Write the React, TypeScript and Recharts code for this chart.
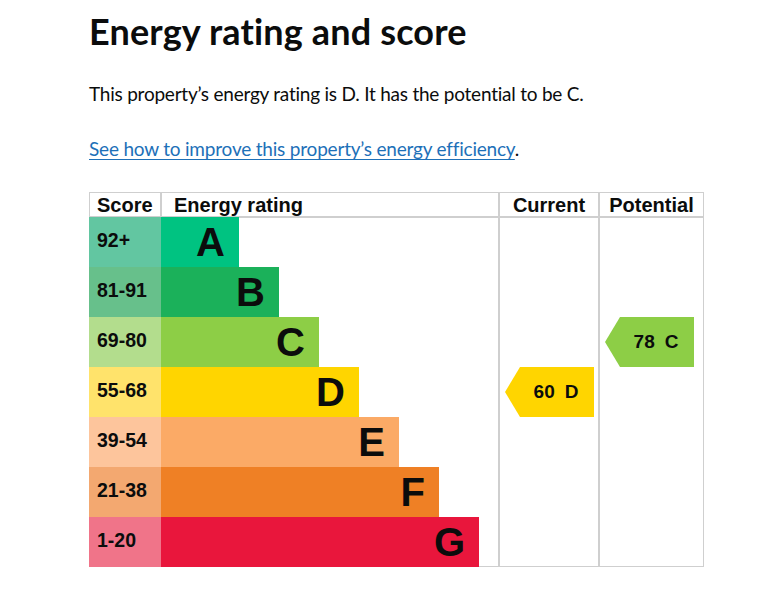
import React from 'react';
import { ComposedChart, Bar, XAxis, YAxis, Cell, LabelList } from 'recharts';

// bands, score ranges and relative bar lengths
const bands = ['A', 'B', 'C', 'D', 'E', 'F', 'G'];
const scoreRanges = ['92+', '81-91', '69-80', '55-68', '39-54', '21-38', '1-20'];
const barLengths = [78, 118, 158, 198, 238, 278, 318];

const currentRating = { score: 60, band: 'D' };
const potentialRating = { score: 78, band: 'C' };

const columnHeaders = ['Score', 'Energy rating', 'Current', 'Potential'];

const bandColors = ['#00c381', '#1bb15a', '#8dce46', '#ffd500', '#fbaa66', '#ef8025', '#e9163c'];
const scoreColors = ['#62c6a1', '#67c08b', '#b3dd8d', '#ffe36b', '#fdc59c', '#f3a870', '#f07489'];

// table layout, in table units (1 unit = 1px across the table)
const TABLE_W = 615;
const SCORE_END = 72;
const RATING_END = 410;
const CURRENT_END = 510;
const ARROW_INSET = 6;
const ARROW_W = 89;

const rows = bands.map((band, i) => ({
  band,
  range: scoreRanges[i],
  score: [0, SCORE_END],
  rating: [SCORE_END, SCORE_END + barLengths[i]],
  current: band === currentRating.band ? [RATING_END + ARROW_INSET, RATING_END + ARROW_INSET + ARROW_W] : null,
  potential: band === potentialRating.band ? [CURRENT_END + ARROW_INSET, CURRENT_END + ARROW_INSET + ARROW_W] : null,
}));

const ARIAL = '"Liberation Sans", Arial, sans-serif';
const GDS = 'Lato, "Noto Sans", sans-serif';

const ScoreLabel = (props: any) => {
  const { x, y, height, value } = props;
  if (x === undefined || value == null) return null;
  return (
    <text x={x + 8} y={y + height / 2 + 5} fontSize={19.5} fontWeight="bold" fontFamily={ARIAL} fill="#0b0c0c">
      {value}
    </text>
  );
};

const BandLabel = (props: any) => {
  const { x, y, width, height, value } = props;
  if (x === undefined || value == null) return null;
  return (
    <text x={x + width - 14} y={y + height / 2 + 14} textAnchor="end" fontSize={40} fontWeight="bold" fontFamily={ARIAL} fill="#0b0c0c">
      {value}
    </text>
  );
};

const Arrow = (props: any) => {
  const { x, y, width, height, fill, payload, which } = props;
  if (!width || !height) return null;
  const tip = 15;
  const rating = which === 'current' ? currentRating : potentialRating;
  const pts = [
    [x, y + height / 2],
    [x + tip, y],
    [x + width, y],
    [x + width, y + height],
    [x + tip, y + height],
  ].map((p) => p.join(',')).join(' ');
  const cx = x + tip + (width - tip) / 2 - 1;
  return (
    <g>
      <polygon points={pts} fill={fill} />
      <text x={cx} y={y + height / 2 + 6} textAnchor="middle" fontSize={19} fontWeight="bold" fontFamily={ARIAL} fill="#0b0c0c">
        <tspan>{rating.score}</tspan>
        <tspan dx={10}>{payload.band}</tspan>
      </text>
    </g>
  );
};

const line = '#cfcfcf';

const App: React.FC = () => {
  const tLeft = 89;
  const tTop = 192;
  const tBottom = 567;
  const headerH = 25;
  const colX = [0, SCORE_END, RATING_END, CURRENT_END];
  return (
    <div style={{ position: 'relative', width: 757, height: 590, background: '#fff', overflow: 'hidden' }}>
      <style>{'body{margin:0}'}</style>
      <div style={{ position: 'absolute', left: 89, top: 11, fontFamily: GDS, fontWeight: 700, fontSize: 36, lineHeight: '40px', letterSpacing: 0.15, color: '#0b0c0c', whiteSpace: 'nowrap' }}>
        Energy rating and score
      </div>
      <div style={{ position: 'absolute', left: 89, top: 81, fontFamily: GDS, fontSize: 19, lineHeight: '25px', letterSpacing: -0.23, color: '#0b0c0c', whiteSpace: 'nowrap' }}>
        This property’s energy rating is D. It has the potential to be C.
      </div>
      <div style={{ position: 'absolute', left: 89, top: 136, fontFamily: GDS, fontSize: 19, lineHeight: '25px', letterSpacing: -0.2, color: '#0b0c0c', whiteSpace: 'nowrap' }}>
        <span style={{ color: '#1d70b8', textDecoration: 'underline', textUnderlineOffset: 3 }}>See how to improve this property’s energy efficiency</span>.
      </div>

      {/* table frame */}
      <div style={{ position: 'absolute', left: tLeft, top: tTop, width: TABLE_W, height: tBottom - tTop, boxSizing: 'border-box', border: `1px solid ${line}` }} />
      <div style={{ position: 'absolute', left: tLeft, top: tTop + headerH - 1, width: TABLE_W, height: 2, background: line }} />
      {colX.slice(1).map((cx, i) => (
        <div
          key={i}
          style={{
            position: 'absolute',
            left: tLeft + cx - 1,
            top: tTop,
            width: 2,
            height: i === 0 ? headerH : tBottom - tTop,
            background: line,
          }}
        />
      ))}
      {columnHeaders.map((h, i) => {
        const start = colX[i];
        const end = i + 1 < colX.length ? colX[i + 1] : TABLE_W;
        const centred = i >= 2;
        return (
          <div
            key={h}
            style={{
              position: 'absolute',
              left: tLeft + start + (centred ? 0 : i === 0 ? 8 : 13),
              width: centred ? end - start : undefined,
              textAlign: centred ? 'center' : 'left',
              top: tTop + 1,
              fontFamily: ARIAL,
              fontWeight: 700,
              fontSize: 20,
              lineHeight: '24px',
              color: '#0b0c0c',
              whiteSpace: 'nowrap',
            }}
          >
            {h}
          </div>
        );
      })}

      <div style={{ position: 'absolute', left: 0, top: 0 }}>
        <ComposedChart
          width={757}
          height={590}
          data={rows}
          layout="vertical"
          margin={{ top: 217, right: 53, bottom: 23, left: 89 }}
          barCategoryGap={0}
          barGap={0}
        >
          <XAxis type="number" domain={[0, TABLE_W]} hide allowDataOverflow />
          <YAxis yAxisId="score" type="category" dataKey="band" hide />
          <YAxis yAxisId="rating" type="category" dataKey="band" hide />
          <YAxis yAxisId="current" type="category" dataKey="band" hide />
          <YAxis yAxisId="potential" type="category" dataKey="band" hide />
          <Bar yAxisId="score" dataKey="score" isAnimationActive={false}>
            {rows.map((r, i) => (
              <Cell key={r.band} fill={scoreColors[i]} />
            ))}
            <LabelList dataKey="range" content={<ScoreLabel />} />
          </Bar>
          <Bar yAxisId="rating" dataKey="rating" isAnimationActive={false}>
            {rows.map((r, i) => (
              <Cell key={r.band} fill={bandColors[i]} />
            ))}
            <LabelList dataKey="band" content={<BandLabel />} />
          </Bar>
          <Bar
            yAxisId="current"
            dataKey="current"
            isAnimationActive={false}
            fill={bandColors[bands.indexOf(currentRating.band)]}
            shape={(p: any) => <Arrow {...p} which="current" />}
          />
          <Bar
            yAxisId="potential"
            dataKey="potential"
            isAnimationActive={false}
            fill={bandColors[bands.indexOf(potentialRating.band)]}
            shape={(p: any) => <Arrow {...p} which="potential" />}
          />
        </ComposedChart>
      </div>
    </div>
  );
};

export default App;
